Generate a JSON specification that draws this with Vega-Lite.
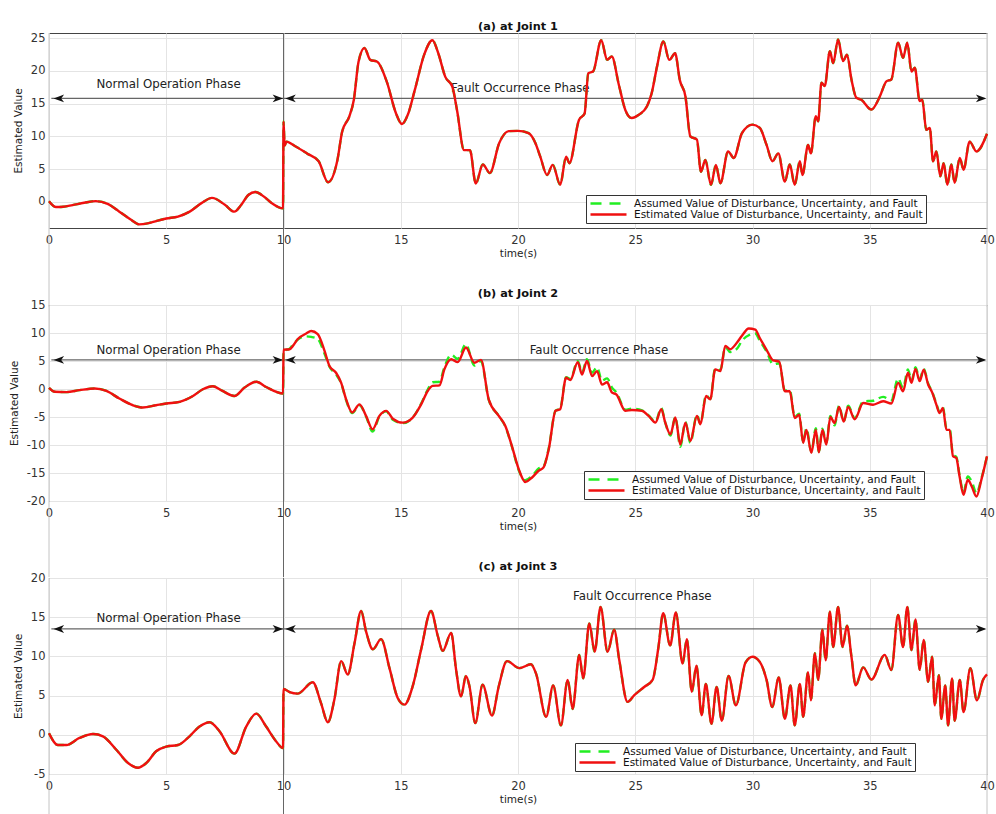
{
"$schema":"https://vega.github.io/schema/vega-lite/v6.json",
"background":"white",
"padding":{"left":8,"top":20,"right":5,"bottom":5},
"config":{"font":"DejaVu Sans","view":{"stroke":"#444","strokeWidth":1},
"axis":{"grid":true,"gridColor":"#e4e4e4","domain":false,"ticks":false,"labelFontSize":11.5,"labelColor":"#333","titleFontSize":10.5,"titleFontWeight":"normal","titleColor":"#222","labelOverlap":false,"labelFlush":false,"labelExpr":"datum.value < 0 ? '-' + abs(datum.value) : '' + datum.value"},
"axisX":{"labelPadding":6,"titlePadding":3},"axisY":{"labelPadding":4,"titlePadding":7},
"title":{"fontSize":11.3,"fontWeight":"bold","color":"#111"}},
"bounds":"flush","spacing":77,
"resolve":{"scale":{"x":"independent","y":"independent","color":"independent","shape":"independent"}},
"vconcat":[
{"width":938,"height":195,"title":{"text":"(a) at Joint 1","offset":0},
"data":{"values":[{"t":0,"e":0.1},{"t":0.3,"e":-0.8},{"t":0.6,"e":-0.75},{"t":1.0,"e":-0.5},{"t":1.5,"e":-0.15},{"t":2.0,"e":0.1},{"t":2.5,"e":-0.3},{"t":3.0,"e":-1.5},{"t":3.5,"e":-2.75},{"t":3.85,"e":-3.45},{"t":4.2,"e":-3.3},{"t":4.6,"e":-2.9},{"t":5.0,"e":-2.55},{"t":5.5,"e":-2.25},{"t":6.0,"e":-1.5},{"t":6.5,"e":-0.2},{"t":6.95,"e":0.6},{"t":7.5,"e":-0.45},{"t":7.9,"e":-1.5},{"t":8.2,"e":-0.45},{"t":8.5,"e":1.05},{"t":8.8,"e":1.5},{"t":9.2,"e":0.7},{"t":9.5,"e":-0.2},{"t":9.98,"e":-1.0},{"t":10.0,"e":12.3},{"t":10.05,"e":8.6},{"t":10.12,"e":9.2},{"t":10.5,"e":8.5},{"t":11.0,"e":7.4},{"t":11.5,"e":6.2},{"t":11.9,"e":3.0},{"t":12.3,"e":6.4},{"t":12.5,"e":10.7},{"t":12.8,"e":13},{"t":13.0,"e":15.6},{"t":13.2,"e":21.4},{"t":13.45,"e":23.5},{"t":13.7,"e":21.7},{"t":14.0,"e":21.4},{"t":14.4,"e":18.4},{"t":14.8,"e":13.5},{"t":15.05,"e":11.9},{"t":15.3,"e":13.3},{"t":15.6,"e":17.1},{"t":16.0,"e":22.5},{"t":16.35,"e":24.7},{"t":16.6,"e":22.7},{"t":16.9,"e":19.1},{"t":17.2,"e":17.6},{"t":17.4,"e":14},{"t":17.7,"e":7.9},{"t":17.95,"e":7.9},{"t":18.2,"e":2.8},{"t":18.5,"e":5.7},{"t":18.8,"e":4.4},{"t":19.2,"e":9},{"t":19.6,"e":10.8},{"t":20.0,"e":10.85},{"t":20.45,"e":10.5},{"t":20.74,"e":9},{"t":20.95,"e":6.9},{"t":21.24,"e":4.1},{"t":21.48,"e":5.65},{"t":21.8,"e":2.6},{"t":22.05,"e":6.9},{"t":22.19,"e":5.9},{"t":22.6,"e":12.5},{"t":22.84,"e":13.5},{"t":23.0,"e":19.65},{"t":23.2,"e":19.9},{"t":23.55,"e":24.7},{"t":23.8,"e":21.7},{"t":24.0,"e":22.2},{"t":24.3,"e":17.9},{"t":24.58,"e":14},{"t":24.85,"e":12.8},{"t":25.15,"e":13.3},{"t":25.5,"e":14.6},{"t":25.7,"e":16.6},{"t":25.93,"e":20.7},{"t":26.2,"e":24.5},{"t":26.45,"e":21.7},{"t":26.7,"e":22.7},{"t":26.9,"e":18.6},{"t":27.14,"e":16.1},{"t":27.35,"e":10},{"t":27.63,"e":9.5},{"t":27.8,"e":4.6},{"t":27.99,"e":6.4},{"t":28.23,"e":2.6},{"t":28.44,"e":5.65},{"t":28.63,"e":2.85},{"t":28.96,"e":7.7},{"t":29.2,"e":6.7},{"t":29.55,"e":10.5},{"t":30.0,"e":11.8},{"t":30.31,"e":11.3},{"t":30.6,"e":8.7},{"t":30.85,"e":6.2},{"t":31.1,"e":7.4},{"t":31.38,"e":3.1},{"t":31.59,"e":5.7},{"t":31.8,"e":2.6},{"t":32.02,"e":6.2},{"t":32.13,"e":4.1},{"t":32.37,"e":8.7},{"t":32.49,"e":7.4},{"t":32.7,"e":13.1},{"t":32.8,"e":12.3},{"t":32.94,"e":18.2},{"t":33.08,"e":17.7},{"t":33.3,"e":23.0},{"t":33.44,"e":21.2},{"t":33.65,"e":24.8},{"t":33.86,"e":21.5},{"t":34.03,"e":22.5},{"t":34.22,"e":18.7},{"t":34.43,"e":15.9},{"t":34.64,"e":15.6},{"t":35.07,"e":14.1},{"t":35.43,"e":16.1},{"t":35.71,"e":18.4},{"t":35.92,"e":18.7},{"t":36.21,"e":24.3},{"t":36.42,"e":22},{"t":36.6,"e":24.3},{"t":36.78,"e":19.9},{"t":36.92,"e":20.5},{"t":37.13,"e":15.4},{"t":37.24,"e":15.6},{"t":37.41,"e":11.0},{"t":37.56,"e":11.3},{"t":37.7,"e":6.2},{"t":37.84,"e":7.7},{"t":38.01,"e":3.9},{"t":38.15,"e":5.9},{"t":38.31,"e":2.6},{"t":38.48,"e":5.7},{"t":38.62,"e":2.9},{"t":38.84,"e":6.7},{"t":39.0,"e":4.9},{"t":39.26,"e":9.2},{"t":39.55,"e":7.7},{"t":40.0,"e":10.4}]},
"layer":[
{"data":{"values":[{"t":5.1,"v":18.0,"s":"Normal Operation Phase"},{"t":20.1,"v":17.4,"s":"Fault Occurrence Phase"}]},"mark":{"type":"text","fontSize":11.8,"color":"#222"},
"encoding":{"x":{"field":"t","type":"quantitative","scale":{"domain":[0,40],"nice":false,"zero":false}},"y":{"field":"v","type":"quantitative","scale":{"domain":[-4,25.8],"nice":false,"zero":false}},"text":{"field":"s"}}},
{"data":{"values":[{"t":0},{"t":40}]},"mark":{"type":"rule","color":"#c4c4c4","strokeWidth":1},
"encoding":{"x":{"field":"t","type":"quantitative","scale":{"domain":[0,40],"nice":false,"zero":false}},"y":{"datum":25.8,"type":"quantitative","scale":{"domain":[-4,25.8],"nice":false,"zero":false}},"y2":{"datum":-16}}},
{"data":{"values":[{"t":10}]},"mark":{"type":"rule","color":"#666","strokeWidth":1},
"encoding":{"x":{"field":"t","type":"quantitative","scale":{"domain":[0,40],"nice":false,"zero":false}},"y":{"datum":25.8,"type":"quantitative","scale":{"domain":[-4,25.8],"nice":false,"zero":false}},"y2":{"datum":-16}}},
{"data":{"values":[{"t":0.1,"t2":39.9,"v":15.8}]},"mark":{"type":"rule","color":"#666","strokeWidth":1.2},
"encoding":{"x":{"field":"t","type":"quantitative","scale":{"domain":[0,40],"nice":false,"zero":false}},"x2":{"field":"t2"},"y":{"field":"v","type":"quantitative","scale":{"domain":[-4,25.8],"nice":false,"zero":false}}}},
{"data":{"values":[{"t":0.42,"v":15.8,"d":"L"},{"t":9.76,"v":15.8,"d":"R"},{"t":10.3,"v":15.8,"d":"L"},{"t":39.75,"v":15.8,"d":"R"}]},"mark":{"type":"point","filled":true,"opacity":1,"color":"#111","size":110},
"encoding":{"x":{"field":"t","type":"quantitative","scale":{"domain":[0,40],"nice":false,"zero":false}},"y":{"field":"v","type":"quantitative","scale":{"domain":[-4,25.8],"nice":false,"zero":false}},"shape":{"field":"d","type":"nominal","scale":{"domain":["L","R"],"range":["M-1,0L1,-0.75L0.45,0L1,0.75Z","M1,0L-1,-0.75L-0.45,0L-1,0.75Z"]},"legend":null}}},
{"mark":{"type":"line","interpolate":"monotone","strokeWidth":2.4,"strokeDash":[8,5]},
"encoding":{"x":{"field":"t","type":"quantitative","scale":{"domain":[0,40],"nice":false,"zero":false}},"y":{"field":"e","type":"quantitative","scale":{"domain":[-4,25.8],"nice":false,"zero":false}},
"color":{"datum":"Assumed Value of Disturbance, Uncertainty, and Fault","type":"nominal","scale":{"domain":["Assumed Value of Disturbance, Uncertainty, and Fault","Estimated Value of Disturbance, Uncertainty, and Fault"],"range":["#22ee22","#f01010"]},
"legend":{"title":null,"orient":"none","legendX":537,"legendY":162,"direction":"vertical","fillColor":"white","strokeColor":"#333","padding":3,"labelFontSize":10.5,"labelColor":"#111","symbolType":"M-1,0H8","symbolSize":64,"symbolStrokeWidth":2.4,"labelOffset":34,"rowPadding":0,"labelLimit":400,"encode":{"symbols":{"update":{"strokeDash":{"signal":"indexof(datum.value,'Assumed')===0?[11,8]:[1,0]"}}}}}}}},
{"mark":{"type":"line","interpolate":"monotone","strokeWidth":2.4},
"encoding":{"x":{"field":"t","type":"quantitative","scale":{"domain":[0,40],"nice":false,"zero":false},"axis":{"title":"time(s)","values":[0,5,10,15,20,25,30,35,40],"labelFlush":false,"labelOverlap":false}},"y":{"field":"e","type":"quantitative","scale":{"domain":[-4,25.8],"nice":false,"zero":false},"axis":{"title":"Estimated Value","values":[0,5,10,15,20,25],"labelOverlap":false,"tickCount":6}},
"color":{"datum":"Estimated Value of Disturbance, Uncertainty, and Fault","type":"nominal","scale":{"domain":["Assumed Value of Disturbance, Uncertainty, and Fault","Estimated Value of Disturbance, Uncertainty, and Fault"],"range":["#22ee22","#f01010"]}}}}
]},
{"width":938,"height":196,"title":{"text":"(b) at Joint 2","offset":0},
"data":{"values":[{"t":0,"e":0.2,"g":0.2},{"t":0.25,"e":-0.5,"g":-0.5},{"t":0.75,"e":-0.55,"g":-0.55},{"t":1.3,"e":-0.2,"g":-0.2},{"t":1.95,"e":0.1,"g":0.1},{"t":2.45,"e":-0.35,"g":-0.35},{"t":3.0,"e":-1.7,"g":-1.7},{"t":3.58,"e":-2.9,"g":-2.9},{"t":4.0,"e":-3.3,"g":-3.3},{"t":4.57,"e":-2.9,"g":-2.9},{"t":5.0,"e":-2.6,"g":-2.6},{"t":5.57,"e":-2.3,"g":-2.3},{"t":6.14,"e":-1.25,"g":-1.25},{"t":6.56,"e":-0.05,"g":-0.05},{"t":6.99,"e":0.5,"g":0.5},{"t":7.4,"e":-0.35,"g":-0.35},{"t":7.91,"e":-1.25,"g":-1.25},{"t":8.34,"e":0.25,"g":0.25},{"t":8.84,"e":1.3,"g":1.3},{"t":9.26,"e":0.35,"g":0.35},{"t":9.98,"e":-0.8,"g":-0.8},{"t":10.0,"e":7.0,"g":6.8},{"t":10.26,"e":7.1,"g":7.2},{"t":10.4,"e":7.7,"g":7.9},{"t":10.6,"e":8.9,"g":8.8},{"t":10.97,"e":9.9,"g":9.4},{"t":11.18,"e":10.35,"g":9.3},{"t":11.46,"e":9.8,"g":8.9},{"t":11.75,"e":6.8,"g":6.3},{"t":11.96,"e":4.1,"g":4.0},{"t":12.24,"e":2.9,"g":2.6},{"t":12.46,"e":1.1,"g":1.0},{"t":12.67,"e":-1.85,"g":-2.0},{"t":12.93,"e":-4.2,"g":-4.3},{"t":13.24,"e":-2.75,"g":-2.9},{"t":13.52,"e":-4.8,"g":-4.9},{"t":13.8,"e":-7.2,"g":-7.6},{"t":14.09,"e":-4.8,"g":-4.9},{"t":14.38,"e":-3.9,"g":-4.0},{"t":14.66,"e":-5.3,"g":-5.5},{"t":15.09,"e":-6,"g":-6.1},{"t":15.51,"e":-5.1,"g":-5.1},{"t":15.87,"e":-2.75,"g":-2.6},{"t":16.15,"e":-0.35,"g":-0.1},{"t":16.36,"e":0.55,"g":1.2},{"t":16.65,"e":0.65,"g":1.3},{"t":16.86,"e":3.5,"g":3.9},{"t":17.15,"e":5.3,"g":6.1},{"t":17.43,"e":4.8,"g":5.4},{"t":17.78,"e":7.4,"g":8.0},{"t":18.14,"e":4.7,"g":4.2},{"t":18.42,"e":5.2,"g":5.0},{"t":18.75,"e":-1.85,"g":-1.9},{"t":19.18,"e":-4.8,"g":-4.8},{"t":19.46,"e":-6.6,"g":-6.7},{"t":19.74,"e":-10.2,"g":-10.3},{"t":20.03,"e":-14.3,"g":-14.5},{"t":20.31,"e":-16.6,"g":-16.3},{"t":20.6,"e":-15.8,"g":-15.5},{"t":20.88,"e":-14.6,"g":-14.2},{"t":21.09,"e":-14,"g":-13.8},{"t":21.31,"e":-10.8,"g":-10.6},{"t":21.6,"e":-3.9,"g":-3.9},{"t":21.8,"e":-3.6,"g":-3.5},{"t":22.05,"e":2.0,"g":2.1},{"t":22.23,"e":1.6,"g":1.8},{"t":22.55,"e":4.8,"g":5.0},{"t":22.73,"e":2.6,"g":3.0},{"t":22.94,"e":5.0,"g":5.3},{"t":23.16,"e":2.3,"g":2.9},{"t":23.37,"e":3.2,"g":3.9},{"t":23.58,"e":0.8,"g":1.5},{"t":23.8,"e":1.2,"g":1.9},{"t":24.0,"e":-0.6,"g":0.3},{"t":24.2,"e":-1.0,"g":-0.6},{"t":24.58,"e":-3.9,"g":-3.7},{"t":24.86,"e":-3.75,"g":-3.5},{"t":25.29,"e":-3.9,"g":-3.8},{"t":25.57,"e":-4.8,"g":-4.7},{"t":25.86,"e":-6.0,"g":-5.8},{"t":26.11,"e":-3.6,"g":-3.4},{"t":26.28,"e":-6.0,"g":-6.0},{"t":26.5,"e":-8.1,"g":-8.3},{"t":26.71,"e":-5.1,"g":-5.0},{"t":26.92,"e":-9.9,"g":-10.3},{"t":27.14,"e":-6.0,"g":-5.9},{"t":27.35,"e":-9.3,"g":-9.6},{"t":27.63,"e":-4.8,"g":-4.6},{"t":27.78,"e":-6.3,"g":-6.2},{"t":28.02,"e":-1.25,"g":-1.1},{"t":28.2,"e":-1.85,"g":-1.8},{"t":28.41,"e":3.5,"g":3.7},{"t":28.63,"e":3.2,"g":3.4},{"t":28.84,"e":7.7,"g":7.5},{"t":29.05,"e":7.1,"g":6.6},{"t":29.34,"e":8.3,"g":7.2},{"t":29.55,"e":9.5,"g":8.6},{"t":29.84,"e":10.8,"g":9.6},{"t":30.12,"e":10.6,"g":9.9},{"t":30.31,"e":9.1,"g":8.6},{"t":30.6,"e":7.0,"g":6.7},{"t":30.88,"e":5.1,"g":4.4},{"t":31.14,"e":4.9,"g":4.6},{"t":31.38,"e":-0.4,"g":-0.3},{"t":31.59,"e":-0.4,"g":-0.2},{"t":31.8,"e":-5.2,"g":-5.0},{"t":31.99,"e":-4.6,"g":-4.4},{"t":32.16,"e":-9.6,"g":-9.5},{"t":32.3,"e":-7.3,"g":-7.0},{"t":32.51,"e":-11.4,"g":-11.2},{"t":32.7,"e":-7.3,"g":-7.0},{"t":32.83,"e":-11.3,"g":-11.2},{"t":32.98,"e":-7.3,"g":-7.1},{"t":33.15,"e":-9.9,"g":-9.6},{"t":33.32,"e":-5.0,"g":-4.8},{"t":33.5,"e":-6.1,"g":-6.5},{"t":33.69,"e":-3.2,"g":-3.0},{"t":33.89,"e":-5.8,"g":-5.8},{"t":34.08,"e":-3.2,"g":-3.0},{"t":34.36,"e":-5.4,"g":-5.2},{"t":34.72,"e":-2.5,"g":-2.2},{"t":35.14,"e":-2.8,"g":-2.1},{"t":35.57,"e":-2.2,"g":-1.4},{"t":35.92,"e":-2.6,"g":-2.0},{"t":36.21,"e":1.1,"g":1.9},{"t":36.42,"e":-0.4,"g":0.2},{"t":36.63,"e":2.9,"g":3.5},{"t":36.78,"e":1.1,"g":1.5},{"t":36.95,"e":3.6,"g":3.9},{"t":37.13,"e":1.4,"g":1.8},{"t":37.3,"e":3.45,"g":3.6},{"t":37.49,"e":0.8,"g":1.0},{"t":37.67,"e":-0.7,"g":-0.6},{"t":37.84,"e":-2.8,"g":-2.6},{"t":37.98,"e":-4.3,"g":-4.1},{"t":38.12,"e":-3.4,"g":-3.3},{"t":38.27,"e":-7.3,"g":-7.0},{"t":38.41,"e":-7.3,"g":-7.1},{"t":38.55,"e":-12,"g":-11.8},{"t":38.69,"e":-12.3,"g":-12.1},{"t":38.83,"e":-15.6,"g":-15.4},{"t":39.0,"e":-18.9,"g":-18.4},{"t":39.18,"e":-16.2,"g":-15.6},{"t":39.35,"e":-17.4,"g":-16.5},{"t":39.55,"e":-19.2,"g":-18.6},{"t":39.76,"e":-16.2,"g":-16.0},{"t":40.0,"e":-12,"g":-12}]},
"layer":[
{"data":{"values":[{"t":5.1,"v":6.9,"s":"Normal Operation Phase"},{"t":23.45,"v":7.0,"s":"Fault Occurrence Phase"}]},"mark":{"type":"text","fontSize":11.8,"color":"#222"},
"encoding":{"x":{"field":"t","type":"quantitative","scale":{"domain":[0,40],"nice":false,"zero":false}},"y":{"field":"v","type":"quantitative","scale":{"domain":[-20,15],"nice":false,"zero":false}},"text":{"field":"s"}}},
{"data":{"values":[{"t":0},{"t":40}]},"mark":{"type":"rule","color":"#c4c4c4","strokeWidth":1},
"encoding":{"x":{"field":"t","type":"quantitative","scale":{"domain":[0,40],"nice":false,"zero":false}},"y":{"datum":15,"type":"quantitative","scale":{"domain":[-20,15],"nice":false,"zero":false}},"y2":{"datum":-33.6}}},
{"data":{"values":[{"t":10}]},"mark":{"type":"rule","color":"#666","strokeWidth":1},
"encoding":{"x":{"field":"t","type":"quantitative","scale":{"domain":[0,40],"nice":false,"zero":false}},"y":{"datum":15,"type":"quantitative","scale":{"domain":[-20,15],"nice":false,"zero":false}},"y2":{"datum":-33.6}}},
{"data":{"values":[{"t":0.1,"t2":39.9,"v":5.2}]},"mark":{"type":"rule","color":"#666","strokeWidth":1.2},
"encoding":{"x":{"field":"t","type":"quantitative","scale":{"domain":[0,40],"nice":false,"zero":false}},"x2":{"field":"t2"},"y":{"field":"v","type":"quantitative","scale":{"domain":[-20,15],"nice":false,"zero":false}}}},
{"data":{"values":[{"t":0.42,"v":5.2,"d":"L"},{"t":9.76,"v":5.2,"d":"R"},{"t":10.3,"v":5.2,"d":"L"},{"t":39.75,"v":5.2,"d":"R"}]},"mark":{"type":"point","filled":true,"opacity":1,"color":"#111","size":110},
"encoding":{"x":{"field":"t","type":"quantitative","scale":{"domain":[0,40],"nice":false,"zero":false}},"y":{"field":"v","type":"quantitative","scale":{"domain":[-20,15],"nice":false,"zero":false}},"shape":{"field":"d","type":"nominal","scale":{"domain":["L","R"],"range":["M-1,0L1,-0.75L0.45,0L1,0.75Z","M1,0L-1,-0.75L-0.45,0L-1,0.75Z"]},"legend":null}}},
{"mark":{"type":"line","interpolate":"monotone","strokeWidth":2.4,"strokeDash":[8,5]},
"encoding":{"x":{"field":"t","type":"quantitative","scale":{"domain":[0,40],"nice":false,"zero":false}},"y":{"field":"g","type":"quantitative","scale":{"domain":[-20,15],"nice":false,"zero":false}},
"color":{"datum":"Assumed Value of Disturbance, Uncertainty, and Fault","type":"nominal","scale":{"domain":["Assumed Value of Disturbance, Uncertainty, and Fault","Estimated Value of Disturbance, Uncertainty, and Fault"],"range":["#22ee22","#f01010"]},
"legend":{"title":null,"orient":"none","legendX":535,"legendY":166,"direction":"vertical","fillColor":"white","strokeColor":"#333","padding":3,"labelFontSize":10.5,"labelColor":"#111","symbolType":"M-1,0H8","symbolSize":64,"symbolStrokeWidth":2.4,"labelOffset":34,"rowPadding":0,"labelLimit":400,"encode":{"symbols":{"update":{"strokeDash":{"signal":"indexof(datum.value,'Assumed')===0?[11,8]:[1,0]"}}}}}}}},
{"mark":{"type":"line","interpolate":"monotone","strokeWidth":2.4},
"encoding":{"x":{"field":"t","type":"quantitative","scale":{"domain":[0,40],"nice":false,"zero":false},"axis":{"title":"time(s)","values":[0,5,10,15,20,25,30,35,40],"labelFlush":false,"labelOverlap":false}},"y":{"field":"e","type":"quantitative","scale":{"domain":[-20,15],"nice":false,"zero":false},"axis":{"title":"Estimated Value","values":[-20,-15,-10,-5,0,5,10,15],"labelOverlap":false,"tickCount":8}},
"color":{"datum":"Estimated Value of Disturbance, Uncertainty, and Fault","type":"nominal","scale":{"domain":["Assumed Value of Disturbance, Uncertainty, and Fault","Estimated Value of Disturbance, Uncertainty, and Fault"],"range":["#22ee22","#f01010"]}}}}
]},
{"width":938,"height":196,"title":{"text":"(c) at Joint 3","offset":0},
"data":{"values":[{"t":0,"e":0.2},{"t":0.38,"e":-1.3},{"t":0.74,"e":-1.3},{"t":1.3,"e":-0.4},{"t":1.88,"e":0.1},{"t":2.3,"e":-0.2},{"t":2.87,"e":-1.9},{"t":3.37,"e":-3.6},{"t":3.79,"e":-4.2},{"t":4.15,"e":-3.6},{"t":4.57,"e":-2.1},{"t":5.0,"e":-1.5},{"t":5.5,"e":-1.3},{"t":5.92,"e":-0.4},{"t":6.42,"e":1.05},{"t":6.85,"e":1.6},{"t":7.27,"e":0.45},{"t":7.91,"e":-2.4},{"t":8.41,"e":1.05},{"t":8.84,"e":2.7},{"t":9.26,"e":1.05},{"t":9.69,"e":-0.85},{"t":9.98,"e":-1.7},{"t":10.0,"e":5.85},{"t":10.26,"e":5.45},{"t":10.6,"e":5.25},{"t":11.25,"e":6.7},{"t":11.6,"e":4.05},{"t":11.89,"e":1.6},{"t":12.17,"e":4.5},{"t":12.46,"e":9.4},{"t":12.74,"e":7.7},{"t":13.03,"e":11.7},{"t":13.31,"e":15.8},{"t":13.52,"e":13.2},{"t":13.81,"e":10.9},{"t":14.16,"e":12.2},{"t":14.52,"e":8.5},{"t":14.87,"e":4.7},{"t":15.16,"e":3.85},{"t":15.51,"e":6.2},{"t":15.87,"e":10.9},{"t":16.29,"e":15.8},{"t":16.58,"e":12.6},{"t":16.79,"e":10.7},{"t":17.15,"e":13.0},{"t":17.36,"e":8.3},{"t":17.57,"e":4.9},{"t":17.78,"e":7.5},{"t":17.93,"e":6.2},{"t":18.18,"e":1.5},{"t":18.49,"e":6.4},{"t":18.89,"e":2.45},{"t":19.18,"e":6.2},{"t":19.53,"e":9.4},{"t":20.06,"e":8.5},{"t":20.55,"e":9.0},{"t":20.77,"e":7.8},{"t":21.2,"e":2.3},{"t":21.5,"e":6.3},{"t":21.83,"e":1.2},{"t":22.12,"e":7.0},{"t":22.33,"e":3.3},{"t":22.61,"e":10.2},{"t":22.78,"e":7.2},{"t":23.04,"e":14.2},{"t":23.27,"e":10.6},{"t":23.52,"e":16.3},{"t":23.82,"e":10.6},{"t":24.1,"e":13.4},{"t":24.32,"e":9.5},{"t":24.67,"e":4.2},{"t":24.96,"e":5.05},{"t":25.38,"e":6.1},{"t":25.74,"e":7.0},{"t":25.99,"e":11.2},{"t":26.19,"e":15.5},{"t":26.49,"e":11.4},{"t":26.73,"e":15.6},{"t":27.02,"e":9.1},{"t":27.2,"e":12.2},{"t":27.41,"e":5.5},{"t":27.61,"e":8.8},{"t":27.83,"e":2.5},{"t":28.01,"e":6.5},{"t":28.25,"e":1.4},{"t":28.47,"e":6.1},{"t":28.69,"e":1.8},{"t":28.98,"e":7.5},{"t":29.29,"e":3.76},{"t":29.7,"e":9.2},{"t":30.0,"e":9.96},{"t":30.31,"e":9.3},{"t":30.6,"e":7.0},{"t":30.84,"e":3.55},{"t":31.12,"e":7.3},{"t":31.38,"e":2.05},{"t":31.62,"e":6.3},{"t":31.8,"e":1.2},{"t":32.02,"e":6.5},{"t":32.16,"e":2.3},{"t":32.37,"e":8.0},{"t":32.49,"e":4.4},{"t":32.66,"e":10.4},{"t":32.8,"e":7.0},{"t":32.98,"e":13.4},{"t":33.12,"e":9.5},{"t":33.3,"e":15.7},{"t":33.44,"e":11.2},{"t":33.65,"e":16.3},{"t":33.84,"e":11.2},{"t":34.03,"e":13.9},{"t":34.22,"e":9.96},{"t":34.4,"e":6.3},{"t":34.72,"e":8.6},{"t":35.07,"e":7.05},{"t":35.64,"e":10.2},{"t":35.92,"e":8.25},{"t":36.21,"e":15.3},{"t":36.42,"e":11.2},{"t":36.6,"e":16.3},{"t":36.78,"e":10.8},{"t":36.95,"e":14.7},{"t":37.13,"e":8.3},{"t":37.3,"e":12.1},{"t":37.49,"e":6.75},{"t":37.66,"e":9.96},{"t":37.77,"e":3.76},{"t":37.95,"e":7.6},{"t":38.05,"e":2.05},{"t":38.22,"e":6.3},{"t":38.34,"e":1.2},{"t":38.51,"e":7.2},{"t":38.62,"e":1.8},{"t":38.84,"e":7.0},{"t":39.0,"e":2.9},{"t":39.29,"e":8.5},{"t":39.57,"e":4.4},{"t":39.83,"e":7.0},{"t":40.0,"e":7.7}]},
"layer":[
{"data":{"values":[{"t":5.1,"v":14.9,"s":"Normal Operation Phase"},{"t":25.3,"v":17.7,"s":"Fault Occurrence Phase"}]},"mark":{"type":"text","fontSize":11.8,"color":"#222"},
"encoding":{"x":{"field":"t","type":"quantitative","scale":{"domain":[0,40],"nice":false,"zero":false}},"y":{"field":"v","type":"quantitative","scale":{"domain":[-5,20],"nice":false,"zero":false}},"text":{"field":"s"}}},
{"data":{"values":[{"t":0},{"t":40}]},"mark":{"type":"rule","color":"#c4c4c4","strokeWidth":1},
"encoding":{"x":{"field":"t","type":"quantitative","scale":{"domain":[0,40],"nice":false,"zero":false}},"y":{"datum":20,"type":"quantitative","scale":{"domain":[-5,20],"nice":false,"zero":false}},"y2":{"datum":-10.3}}},
{"data":{"values":[{"t":10}]},"mark":{"type":"rule","color":"#666","strokeWidth":1},
"encoding":{"x":{"field":"t","type":"quantitative","scale":{"domain":[0,40],"nice":false,"zero":false}},"y":{"datum":20,"type":"quantitative","scale":{"domain":[-5,20],"nice":false,"zero":false}},"y2":{"datum":-10.3}}},
{"data":{"values":[{"t":0.1,"t2":39.9,"v":13.5}]},"mark":{"type":"rule","color":"#666","strokeWidth":1.2},
"encoding":{"x":{"field":"t","type":"quantitative","scale":{"domain":[0,40],"nice":false,"zero":false}},"x2":{"field":"t2"},"y":{"field":"v","type":"quantitative","scale":{"domain":[-5,20],"nice":false,"zero":false}}}},
{"data":{"values":[{"t":0.42,"v":13.5,"d":"L"},{"t":9.76,"v":13.5,"d":"R"},{"t":10.3,"v":13.5,"d":"L"},{"t":39.75,"v":13.5,"d":"R"}]},"mark":{"type":"point","filled":true,"opacity":1,"color":"#111","size":110},
"encoding":{"x":{"field":"t","type":"quantitative","scale":{"domain":[0,40],"nice":false,"zero":false}},"y":{"field":"v","type":"quantitative","scale":{"domain":[-5,20],"nice":false,"zero":false}},"shape":{"field":"d","type":"nominal","scale":{"domain":["L","R"],"range":["M-1,0L1,-0.75L0.45,0L1,0.75Z","M1,0L-1,-0.75L-0.45,0L-1,0.75Z"]},"legend":null}}},
{"mark":{"type":"line","interpolate":"monotone","strokeWidth":2.4,"strokeDash":[8,5]},
"encoding":{"x":{"field":"t","type":"quantitative","scale":{"domain":[0,40],"nice":false,"zero":false}},"y":{"field":"e","type":"quantitative","scale":{"domain":[-5,20],"nice":false,"zero":false}},
"color":{"datum":"Assumed Value of Disturbance, Uncertainty, and Fault","type":"nominal","scale":{"domain":["Assumed Value of Disturbance, Uncertainty, and Fault","Estimated Value of Disturbance, Uncertainty, and Fault"],"range":["#22ee22","#f01010"]},
"legend":{"title":null,"orient":"none","legendX":526,"legendY":165,"direction":"vertical","fillColor":"white","strokeColor":"#333","padding":3,"labelFontSize":10.5,"labelColor":"#111","symbolType":"M-1,0H8","symbolSize":64,"symbolStrokeWidth":2.4,"labelOffset":34,"rowPadding":0,"labelLimit":400,"encode":{"symbols":{"update":{"strokeDash":{"signal":"indexof(datum.value,'Assumed')===0?[11,8]:[1,0]"}}}}}}}},
{"mark":{"type":"line","interpolate":"monotone","strokeWidth":2.4},
"encoding":{"x":{"field":"t","type":"quantitative","scale":{"domain":[0,40],"nice":false,"zero":false},"axis":{"title":"time(s)","values":[0,5,10,15,20,25,30,35,40],"labelFlush":false,"labelOverlap":false}},"y":{"field":"e","type":"quantitative","scale":{"domain":[-5,20],"nice":false,"zero":false},"axis":{"title":"Estimated Value","values":[-5,0,5,10,15,20],"labelOverlap":false,"tickCount":6}},
"color":{"datum":"Estimated Value of Disturbance, Uncertainty, and Fault","type":"nominal","scale":{"domain":["Assumed Value of Disturbance, Uncertainty, and Fault","Estimated Value of Disturbance, Uncertainty, and Fault"],"range":["#22ee22","#f01010"]}}}}
]}
]}
